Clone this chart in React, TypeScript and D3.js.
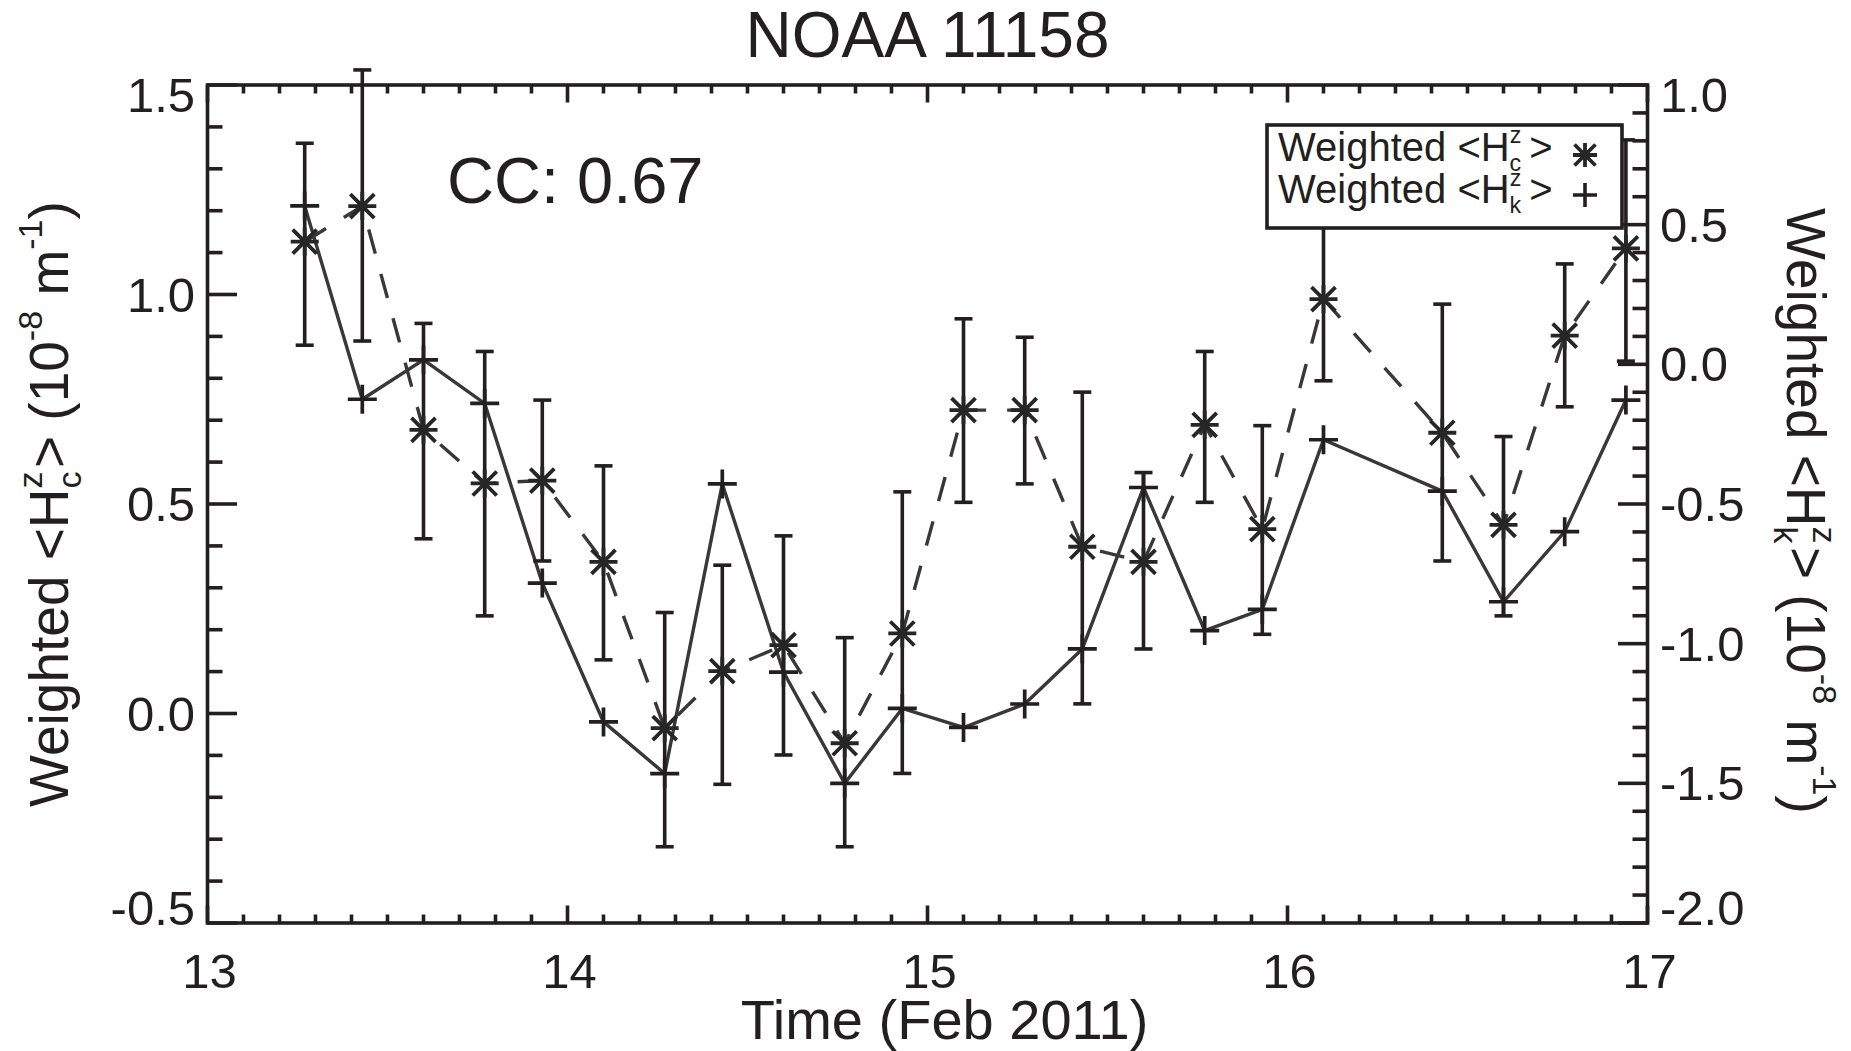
import React from 'react';
import * as d3 from 'd3';

// ---------------- data ----------------
const times = [13.27, 13.43, 13.60, 13.77, 13.93, 14.10, 14.27, 14.43, 14.60, 14.77, 14.93,
  15.10, 15.27, 15.43, 15.60, 15.77, 15.93, 16.10, 16.43, 16.60, 16.77, 16.94];

// Weighted <H_c^z> (left axis), asterisks, dashed line, with error bars
const hcValues = [1.126, 1.211, 0.677, 0.549, 0.556, 0.362, -0.035, 0.101, 0.163, -0.071, 0.191,
  0.724, 0.724, 0.398, 0.362, 0.689, 0.440, 0.989, 0.670, 0.450, 0.902, 1.110];
const hcLower = [0.879, 0.889, 0.417, 0.233, 0.364, 0.128, -0.318, -0.169, -0.099, -0.318, -0.143,
  0.504, 0.548, 0.023, 0.154, 0.504, 0.189, 0.794, 0.364, 0.233, 0.732, 0.841];
const hcUpper = [1.361, 1.536, 0.931, 0.864, 0.748, 0.591, 0.241, 0.354, 0.424, 0.181, 0.529,
  0.942, 0.898, 0.767, 0.575, 0.864, 0.687, 1.176, 0.977, 0.661, 1.073, 1.369];

// Weighted <H_k^z> (right axis), plus signs, solid line
const hkValues = [0.567, -0.125, 0.016, -0.140, -0.783, -1.280, -1.465, -0.428, -1.102, -1.500, -1.232,
  -1.300, -1.216, -1.019, -0.441, -0.953, -0.877, -0.270, -0.454, -0.850, -0.599, -0.128];

const xTickValues = [13, 14, 15, 16, 17];
const xTickLabels = ['13', '14', '15', '16', '17'];
const leftTickValues = [-0.5, 0, 0.5, 1.0, 1.5];
const leftTickLabels = ['-0.5', '0.0', '0.5', '1.0', '1.5'];
const rightTickValues = [-2.0, -1.5, -1.0, -0.5, 0, 0.5, 1.0];
const rightTickLabels = ['-2.0', '-1.5', '-1.0', '-0.5', '0.0', '0.5', '1.0'];

const titleText = 'NOAA 11158';
const ccText = 'CC: 0.67';

// ---------------- styling ----------------
const W = 1851;
const H = 1051;
const PL = 207.5, PR = 1647.5, PT = 85, PB = 923;
const FONT = "'Liberation Sans', Arial, Helvetica, sans-serif";
const INK = '#231f20';
const LINE = '#383838';

const x = d3.scaleLinear().domain([13, 17]).range([PL, PR]);
const yL = d3.scaleLinear().domain([-0.5, 1.5]).range([PB, PT]);
const yR = d3.scaleLinear().domain([-2.0, 1.0]).range([PB, PT]);

function minorRange(a: number, b: number, step: number) {
  const n = Math.round((b - a) / step);
  return d3.range(n + 1).map((i) => a + i * step);
}

const asteriskPath = (s: number, d: number) =>
  `M${-s},0H${s}M0,${-s}V${s}M${-d},${-d}L${d},${d}M${-d},${d}L${d},${-d}`;
const plusPath = (s: number) => `M${-s},0H${s}M0,${-s}V${s}`;

function labelBaseline(v: number, min: number, max: number, py: number) {
  if (Math.abs(v - max) < 1e-9) return py + 27;
  if (Math.abs(v - min) < 1e-9) return py + 2;
  return py + 17;
}

function RichLabel(props: { sub: string; fs: number }) {
  const { sub, fs } = props;
  const sf = fs * 0.62;
  const up = fs * 0.48;
  const down = fs * 0.24;
  return (
    <>
      <tspan>{'Weighted <H'}</tspan>
      <tspan dy={-up} fontSize={sf}>z</tspan>
      <tspan dx={-0.5 * sf} dy={up + down} fontSize={sf}>{sub}</tspan>
      <tspan dx={fs * 0.06} dy={-down}>{'> (10'}</tspan>
      <tspan dy={-up} fontSize={sf}>-8</tspan>
      <tspan dy={up}>{' m'}</tspan>
      <tspan dy={-up} fontSize={sf}>-1</tspan>
      <tspan dy={up}>)</tspan>
    </>
  );
}

function LegendLabel(props: { sub: string; fs: number }) {
  const { sub, fs } = props;
  const sf = fs * 0.58;
  const up = fs * 0.43;
  const down = fs * 0.25;
  return (
    <>
      <tspan>{'Weighted <H'}</tspan>
      <tspan dy={-up} fontSize={sf}>z</tspan>
      <tspan dx={-0.5 * sf} dy={up + down} fontSize={sf}>{sub}</tspan>
      <tspan dx={fs * 0.2} dy={-down}>{'>'}</tspan>
    </>
  );
}

export default function App() {
  const xMinor = minorRange(13, 17, 0.1);
  const lMinor = minorRange(-0.5, 1.5, 0.1);
  const rMinor = minorRange(-2.0, 1.0, 0.1);

  const hcLine = d3.line<number>().x((_, i) => x(times[i])).y((d) => yL(d))(hcValues) || '';
  const hkLine = d3.line<number>().x((_, i) => x(times[i])).y((d) => yR(d))(hkValues) || '';

  const isMajorX = (v: number) => xTickValues.some((t) => Math.abs(t - v) < 1e-6);
  const isMajorL = (v: number) => leftTickValues.some((t) => Math.abs(t - v) < 1e-6);
  const isMajorR = (v: number) => rightTickValues.some((t) => Math.abs(t - v) < 1e-6);

  const yMaj = 29.5, yMin = 15, xMaj = 17.5, xMin = 8.5;
  const capW = 9;

  return (
    <svg width={W} height={H} viewBox={`0 0 ${W} ${H}`}
      style={{ position: 'absolute', left: 0, top: 0, display: 'block', background: '#fff' }}
      fontFamily={FONT}>
      <rect x={0} y={0} width={W} height={H} fill="#fff" />

      {/* title */}
      <text x={(PL + PR) / 2} y={56.5} textAnchor="middle" fontSize={64} fill={INK}>{titleText}</text>

      {/* data lines */}
      <path d={hcLine} fill="none" stroke={LINE} strokeWidth={3.4} strokeDasharray="25 21" />
      <path d={hkLine} fill="none" stroke={LINE} strokeWidth={3.4} />

      {/* error bars */}
      <g stroke={INK} strokeWidth={3.6} fill="none">
        {times.map((t, i) => {
          const cx = x(t);
          const y1 = yL(hcUpper[i]);
          const y2 = yL(hcLower[i]);
          return (
            <g key={'e' + i}>
              <line x1={cx} x2={cx} y1={y1} y2={y2} />
              <line x1={cx - capW} x2={cx + capW} y1={y1} y2={y1} />
              <line x1={cx - capW} x2={cx + capW} y1={y2} y2={y2} />
            </g>
          );
        })}
      </g>

      {/* asterisk markers */}
      <g stroke="#262626" strokeWidth={3.8} fill="none">
        {times.map((t, i) => (
          <path key={'a' + i} transform={`translate(${x(t)},${yL(hcValues[i])})`} d={asteriskPath(14, 12)} />
        ))}
      </g>

      {/* plus markers */}
      <g stroke={INK} strokeWidth={3.7} fill="none">
        {times.map((t, i) => (
          <path key={'p' + i} transform={`translate(${x(t)},${yR(hkValues[i])})`} d={plusPath(14.5)} />
        ))}
      </g>

      {/* frame */}
      <rect x={PL} y={PT} width={PR - PL} height={PB - PT} fill="none" stroke={INK} strokeWidth={3.6} />

      {/* ticks */}
      <g stroke={INK} strokeWidth={3.6}>
        {xMinor.map((v, i) => {
          const len = isMajorX(v) ? xMaj : xMin;
          const px = x(v);
          return (
            <g key={'xt' + i}>
              <line x1={px} x2={px} y1={PB} y2={PB - len} />
              <line x1={px} x2={px} y1={PT} y2={PT + len} />
            </g>
          );
        })}
        {lMinor.map((v, i) => {
          const len = isMajorL(v) ? yMaj : yMin;
          const py = yL(v);
          return <line key={'lt' + i} x1={PL} x2={PL + len} y1={py} y2={py} />;
        })}
        {rMinor.map((v, i) => {
          const len = isMajorR(v) ? yMaj : yMin;
          const py = yR(v);
          return <line key={'rt' + i} x1={PR} x2={PR - len} y1={py} y2={py} />;
        })}
      </g>

      {/* tick labels */}
      <g fontSize={49} fill={INK}>
        {xTickValues.map((v, i) => (
          <text key={'xl' + i} x={x(v) + 2} y={988} textAnchor="middle">{xTickLabels[i]}</text>
        ))}
        {leftTickValues.map((v, i) => (
          <text key={'ll' + i} x={195} y={labelBaseline(v, -0.5, 1.5, yL(v))} textAnchor="end">{leftTickLabels[i]}</text>
        ))}
        {rightTickValues.map((v, i) => (
          <text key={'rl' + i} x={1660} y={labelBaseline(v, -2.0, 1.0, yR(v))} textAnchor="start">{rightTickLabels[i]}</text>
        ))}
      </g>

      {/* axis titles */}
      <text x={(PL + PR) / 2 + 17} y={1039} textAnchor="middle" fontSize={56} fill={INK}>Time (Feb 2011)</text>
      <text transform={`translate(68,${504}) rotate(-90)`} textAnchor="middle" fontSize={55} fill={INK}
        style={{ whiteSpace: 'pre' }}>
        <RichLabel sub="c" fs={55} />
      </text>
      <text transform={`translate(1787,${511}) rotate(90)`} textAnchor="middle" fontSize={55} fill={INK}
        style={{ whiteSpace: 'pre' }}>
        <RichLabel sub="k" fs={55} />
      </text>

      {/* CC annotation */}
      <text x={447} y={203} fontSize={65} fill={INK}>{ccText}</text>

      {/* legend */}
      <rect x={1267} y={125} width={355} height={103} fill="#fff" stroke={INK} strokeWidth={3.6} />
      <text x={1278} y={160.5} fontSize={40} fill={INK} style={{ whiteSpace: 'pre' }}>
        <LegendLabel sub="c" fs={40} />
      </text>
      <text x={1278} y={203} fontSize={40} fill={INK} style={{ whiteSpace: 'pre' }}>
        <LegendLabel sub="k" fs={40} />
      </text>
      <path transform="translate(1585,155)" d={asteriskPath(12, 10.5)} stroke="#262626" strokeWidth={3.8} fill="none" />
      <path transform="translate(1585,195)" d={plusPath(12)} stroke={INK} strokeWidth={3.6} fill="none" />
    </svg>
  );
}
